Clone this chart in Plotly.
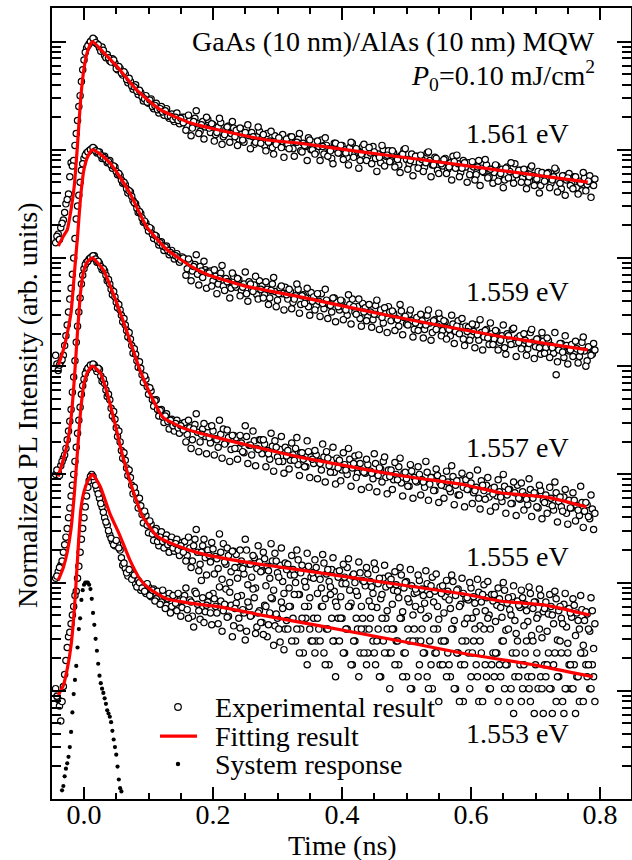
import plotly.graph_objects as go

FONT = "Liberation Serif, Times New Roman, Times, serif"

# ---------------- data ----------------
energies = ["1.561 eV", "1.559 eV", "1.557 eV", "1.555 eV", "1.553 eV"]
decade_offsets = [7, 6, 5, 4, 3]          # vertical shift of each normalized curve (decades)
sys_offset = 2

# sampling grids of the streak traces (ns): main samples and the interleaved half-step samples
time_start, time_step, n_time = -0.044, 0.004, 210
time_ns = [round(time_start + i * time_step, 4) for i in range(n_time)]
time_ns_b = [round(time_start + 0.002 + i * time_step, 4) for i in range(n_time - 1)]

# experimental PL, log10(normalized intensity) in hundredths of a decade
exp_1561 = [
    -186, -178, -172, -165, -150, -141, -112, -110, -85, -60,
    -37, -17, -6, -2, 1, 2, -2, -6, -5, -13,
    -12, -18, -16, -20, -26, -25, -31, -30, -38, -37,
    -44, -40, -49, -47, -55, -50, -57, -53, -62, -57,
    -66, -60, -68, -62, -71, -67, -74, -66, -76, -70,
    -70, -78, -73, -80, -71, -76, -83, -74, -79, -72,
    -84, -77, -86, -79, -75, -88, -81, -78, -85, -80,
    -82, -90, -86, -93, -80, -87, -84, -95, -88, -83,
    -89, -96, -85, -92, -98, -87, -94, -90, -86, -97,
    -95, -88, -99, -93, -90, -101, -94, -97, -89, -100,
    -93, -102, -97, -91, -104, -96, -99, -108, -94, -100,
    -103, -96, -100, -107, -98, -94, -104, -101, -110, -97,
    -99, -106, -103, -97, -108, -104, -112, -100, -106, -101,
    -110, -103, -107, -114, -105, -100, -109, -113, -104, -111,
    -106, -112, -109, -116, -103, -110, -114, -107, -119, -111,
    -115, -108, -118, -112, -106, -117, -113, -121, -110, -116,
    -112, -119, -116, -123, -110, -117, -121, -114, -125, -118,
    -121, -115, -124, -118, -128, -116, -120, -126, -113, -122,
    -119, -126, -122, -130, -117, -124, -128, -120, -133, -123,
    -127, -121, -131, -125, -119, -129, -136, -124, -128, -122,
    -131, -125, -135, -129, -138, -126, -132, -124, -129, -127,
]
exp_1561_b = [
    -180, -183, -168, -158, -146, -125, -115, -96, -73, -50,
    -26, -10, -4, 0, 3, -1, -3, -9, -8, -15,
    -15, -19, -17, -25, -23, -29, -28, -35, -34, -41,
    -42, -46, -45, -51, -53, -56, -54, -60, -59, -63,
    -62, -65, -64, -69, -69, -72, -70, -73, -71, -75,
    -82, -68, -87, -74, -64, -85, -77, -90, -70, -80,
    -76, -92, -84, -71, -95, -86, -79, -93, -74, -88,
    -96, -80, -91, -84, -77, -99, -88, -93, -79, -94,
    -86, -101, -93, -83, -104, -95, -89, -98, -107, -90,
    -99, -88, -106, -93, -85, -102, -96, -110, -91, -100,
    -104, -92, -110, -97, -89, -106, -101, -113, -94, -103,
    -96, -109, -103, -114, -93, -107, -99, -117, -104, -95,
    -110, -98, -113, -102, -120, -107, -96, -115, -105, -111,
    -101, -116, -109, -121, -104, -99, -118, -110, -124, -106,
    -117, -105, -120, -112, -102, -125, -114, -108, -122, -113,
    -109, -122, -116, -128, -111, -105, -125, -117, -112, -130,
    -123, -111, -128, -116, -133, -120, -109, -126, -118, -131,
    -114, -129, -122, -135, -117, -126, -112, -131, -123, -119,
    -130, -118, -136, -125, -115, -133, -127, -140, -121, -129,
    -122, -135, -128, -117, -139, -131, -124, -142, -126, -133,
    -136, -125, -141, -131, -121, -138, -129, -144, -133,
]
exp_1559 = [
    -190, -204, -196, -190, -172, -150, -128, -100, -64, -42,
    -19, -8, -3, -1, 1, 1, -3, -2, -8, -6,
    -12, -10, -17, -16, -23, -24, -31, -32, -40, -39,
    -47, -50, -58, -59, -67, -68, -75, -73, -82, -80,
    -88, -85, -93, -89, -97, -93, -101, -96, -104, -99,
    -101, -110, -104, -112, -106, -115, -108, -118, -111, -113,
    -112, -121, -117, -124, -114, -126, -119, -122, -128, -117,
    -127, -120, -130, -124, -133, -122, -129, -125, -134, -121,
    -126, -134, -129, -137, -124, -131, -139, -128, -133, -127,
    -138, -131, -141, -135, -129, -143, -134, -137, -145, -132,
    -136, -144, -140, -133, -147, -139, -143, -150, -137, -141,
    -148, -140, -146, -153, -143, -138, -150, -145, -156, -142,
    -146, -154, -150, -157, -144, -152, -148, -160, -151, -145,
    -158, -151, -156, -163, -149, -155, -161, -152, -158, -166,
    -155, -162, -158, -166, -153, -160, -169, -157, -163, -156,
    -167, -159, -165, -172, -161, -168, -158, -164, -175, -163,
    -164, -172, -168, -162, -176, -169, -173, -166, -180, -170,
    -175, -168, -178, -172, -183, -170, -176, -166, -179, -174,
    -172, -180, -176, -184, -169, -178, -182, -175, -189, -177,
    -183, -176, -181, -188, -208, -185, -179, -192, -181, -186,
    -180, -188, -184, -191, -178, -186, -195, -183, -189, -185,
]
exp_1559_b = [
    -198, -199, -194, -181, -162, -138, -115, -82, -52, -30,
    -13, -5, -2, 0, 2, -1, -2, -5, -7, -9,
    -11, -14, -15, -20, -22, -28, -30, -36, -38, -43,
    -49, -54, -57, -63, -66, -71, -72, -78, -79, -84,
    -86, -89, -90, -93, -95, -97, -98, -100, -102, -100,
    -116, -101, -121, -108, -97, -125, -112, -103, -128, -114,
    -126, -111, -133, -119, -107, -130, -122, -137, -114, -125,
    -119, -135, -127, -113, -140, -124, -131, -117, -138, -129,
    -137, -122, -143, -130, -118, -145, -133, -126, -148, -134,
    -129, -147, -138, -124, -151, -135, -142, -128, -153, -140,
    -148, -133, -154, -142, -129, -156, -144, -137, -159, -145,
    -139, -157, -148, -134, -161, -145, -152, -138, -163, -150,
    -158, -143, -164, -152, -139, -166, -155, -146, -169, -150,
    -149, -167, -157, -143, -171, -154, -162, -148, -173, -160,
    -167, -152, -174, -162, -148, -176, -158, -166, -151, -172,
    -158, -175, -166, -153, -179, -163, -170, -156, -181, -168,
    -176, -161, -183, -171, -157, -185, -167, -174, -160, -180,
    -167, -185, -176, -162, -189, -172, -180, -165, -191, -178,
    -184, -170, -190, -179, -166, -193, -175, -183, -169, -188,
    -174, -192, -183, -169, -196, -179, -187, -172, -198, -185,
    -191, -177, -197, -186, -173, -200, -182, -190, -179,
]
exp_1557 = [
    -200, -198, -192, -185, -176, -160, -140, -110, -78, -50,
    -24, -10, -4, -1, 1, 2, -4, -5, -11, -12,
    -21, -24, -34, -36, -46, -48, -59, -62, -73, -75,
    -88, -89, -101, -102, -115, -112, -126, -123, -137, -131,
    -146, -140, -152, -144, -158, -149, -160, -150, -162, -153,
    -152, -163, -157, -168, -154, -161, -170, -158, -165, -156,
    -171, -160, -167, -175, -163, -158, -170, -166, -177, -164,
    -166, -176, -171, -180, -165, -173, -182, -169, -176, -168,
    -181, -172, -178, -186, -174, -169, -184, -177, -188, -175,
    -178, -187, -182, -176, -191, -180, -186, -193, -179, -184,
    -190, -182, -188, -196, -184, -179, -192, -187, -198, -185,
    -187, -196, -191, -200, -186, -194, -183, -199, -190, -197,
    -199, -191, -197, -204, -190, -201, -195, -188, -203, -196,
    -196, -205, -200, -193, -208, -199, -204, -211, -197, -203,
    -207, -200, -205, -212, -198, -209, -203, -215, -201, -208,
    -204, -211, -207, -216, -202, -210, -219, -206, -212, -205,
    -214, -208, -217, -212, -222, -206, -215, -210, -221, -213,
    -212, -220, -216, -225, -211, -219, -214, -227, -217, -210,
    -223, -216, -220, -228, -214, -222, -218, -231, -215, -224,
    -219, -227, -222, -233, -217, -225, -230, -221, -236, -224,
    -231, -224, -229, -238, -226, -234, -228, -241, -232, -236,
]
exp_1557_b = [
    -196, -201, -188, -182, -168, -151, -124, -95, -63, -37,
    -16, -6, -3, 0, 2, -1, -3, -8, -10, -16,
    -20, -29, -31, -41, -43, -53, -56, -67, -69, -81,
    -84, -95, -96, -108, -109, -119, -120, -131, -132, -140,
    -141, -147, -146, -151, -150, -155, -153, -157, -155, -159,
    -170, -150, -176, -158, -144, -179, -163, -153, -181, -166,
    -155, -182, -168, -150, -185, -172, -159, -188, -164, -176,
    -186, -164, -179, -155, -190, -173, -160, -192, -177, -168,
    -168, -193, -181, -162, -197, -175, -188, -165, -199, -183,
    -195, -171, -187, -166, -201, -180, -193, -169, -203, -186,
    -178, -204, -190, -172, -207, -185, -198, -175, -209, -194,
    -206, -180, -196, -176, -211, -190, -203, -182, -214, -198,
    -186, -212, -199, -181, -216, -194, -207, -184, -218, -202,
    -214, -189, -205, -185, -220, -198, -211, -191, -222, -206,
    -193, -219, -207, -188, -224, -203, -215, -195, -226, -210,
    -222, -197, -213, -192, -228, -206, -219, -199, -230, -214,
    -201, -227, -215, -196, -232, -210, -223, -203, -234, -218,
    -230, -205, -221, -200, -236, -214, -227, -207, -238, -222,
    -208, -233, -223, -204, -239, -217, -230, -210, -241, -226,
    -236, -212, -229, -207, -244, -221, -234, -214, -246, -231,
    -217, -243, -233, -211, -249, -226, -239, -219, -251,
]
exp_1555 = [
    -196, -190, -184, -172, -158, -140, -120, -100, -75, -50,
    -26, -12, -4, -1, 0, 1, -5, -3, -14, -16,
    -28, -31, -46, -49, -65, -70, -85, -87, -101, -103,
    -118, -117, -131, -129, -145, -138, -154, -146, -161, -150,
    -166, -153, -168, -156, -172, -158, -171, -160, -175, -163,
    -162, -175, -168, -180, -160, -172, -183, -166, -177, -170,
    -181, -169, -176, -187, -172, -164, -183, -175, -190, -171,
    -174, -186, -180, -192, -170, -183, -195, -177, -187, -181,
    -189, -178, -185, -196, -180, -173, -191, -184, -199, -182,
    -183, -193, -188, -200, -179, -191, -186, -204, -185, -195,
    -196, -186, -193, -205, -182, -192, -199, -188, -208, -190,
    -189, -201, -195, -186, -207, -194, -200, -212, -191, -198,
    -203, -192, -199, -210, -188, -201, -215, -196, -204, -194,
    -197, -207, -202, -214, -193, -205, -199, -218, -203, -210,
    -209, -198, -206, -219, -201, -211, -195, -208, -222, -204,
    -203, -213, -208, -224, -199, -212, -206, -220, -210, -215,
    -216, -205, -213, -227, -209, -218, -202, -214, -230, -211,
    -211, -221, -215, -232, -207, -219, -225, -213, -235, -217,
    -223, -214, -220, -236, -210, -224, -218, -230, -212, -227,
    -218, -229, -222, -238, -215, -226, -233, -220, -241, -224,
    -232, -221, -228, -243, -225, -235, -229, -245, -226, -238,
]
exp_1555_b = [
    -194, -186, -180, -165, -150, -131, -110, -88, -62, -38,
    -18, -7, -2, 1, 2, -2, -2, -9, -12, -22,
    -26, -39, -42, -57, -60, -78, -80, -94, -96, -110,
    -112, -124, -122, -137, -134, -147, -143, -155, -152, -162,
    -158, -162, -160, -165, -163, -168, -164, -170, -166, -172,
    -180, -158, -186, -166, -151, -189, -172, -160, -193, -175,
    -163, -192, -178, -155, -197, -181, -168, -200, -171, -186,
    -196, -170, -187, -160, -202, -183, -175, -205, -166, -190,
    -172, -203, -189, -164, -207, -180, -195, -168, -210, -188,
    -205, -175, -193, -170, -211, -184, -199, -173, -214, -191,
    -179, -210, -197, -174, -215, -188, -204, -177, -218, -195,
    -213, -183, -201, -178, -219, -192, -208, -181, -222, -199,
    -186, -217, -204, -182, -223, -196, -211, -184, -226, -202,
    -220, -190, -208, -186, -227, -200, -215, -188, -230, -206,
    -193, -225, -212, -189, -231, -203, -218, -192, -234, -210,
    -228, -198, -216, -193, -235, -207, -222, -196, -238, -214,
    -200, -233, -219, -197, -240, -211, -226, -199, -243, -217,
    -236, -205, -223, -200, -244, -214, -230, -203, -247, -221,
    -207, -240, -226, -204, -249, -218, -233, -206, -251, -224,
    -245, -211, -230, -208, -253, -222, -238, -210, -256, -228,
    -215, -249, -235, -212, -258, -227, -243, -214, -261,
]
exp_1553 = [
    -198, -208, -228, -196, -172, -150, -138, -122, -108, -85,
    -60, -40, -20, -6, 0, -6, -14, -22, -30, -40,
    -47, -56, -62, -66, -64, -70, -84, -87, -94, -90,
    -96, -101, -98, -107, -103, -110, -104, -113, -106, -115,
    -109, -118, -112, -121, -110, -122, -114, -126, -117, -123,
    -112, -125, -116, -131, -108, -120, -134, -114, -127, -118,
    -128, -110, -122, -138, -117, -126, -106, -131, -121, -140,
    -119, -133, -112, -128, -145, -122, -130, -114, -141, -126,
    -137, -121, -150, -128, -115, -140, -133, -155, -124, -143,
    -143, -122, -133, -154, -111, -143, -165, -133, -122, -154,
    -133, -154, -143, -122, -165, -143, -176, -133, -154, -122,
    -154, -133, -165, -143, -122, -176, -154, -143, -165, -133,
    -143, -165, -133, -154, -176, -143, -187, -154, -133, -165,
    -165, -143, -154, -176, -133, -165, -187, -154, -198, -143,
    -154, -176, -143, -165, -187, -154, -198, -165, -143, -176,
    -176, -154, -165, -187, -143, -198, -165, -176, -210, -154,
    -165, -187, -154, -176, -210, -165, -143, -187, -198, -176,
    -187, -165, -176, -154, -198, -176, -210, -165, -187, -154,
    -176, -198, -165, -187, -210, -154, -176, -198, -187, -221,
    -187, -165, -198, -176, -210, -187, -165, -221, -198, -176,
    -198, -176, -187, -210, -165, -165, -187, -198, -176, -210,
]
exp_1553_b = [
    -205, -214, -210, -185, -160, -146, -130, -112, -96, -72,
    -50, -30, -12, -2, -2, -10, -18, -27, -35, -44,
    -52, -59, -65, -61, -68, -77, -82, -91, -88, -97,
    -93, -104, -100, -105, -108, -101, -112, -107, -117, -108,
    -120, -107, -124, -115, -128, -112, -119, -110, -131, -116,
    -105, -133, -118, -141, -110, -126, -98, -137, -121, -112,
    -139, -115, -128, -104, -145, -120, -132, -109, -150, -124,
    -113, -142, -125, -153, -118, -131, -106, -147, -128, -137,
    -148, -122, -139, -114, -158, -129, -143, -118, -162, -135,
    -122, -154, -111, -143, -165, -133, -122, -176, -143, -154,
    -165, -133, -154, -122, -176, -143, -111, -154, -187, -133,
    -133, -165, -143, -122, -176, -154, -133, -187, -143, -165,
    -176, -143, -122, -165, -154, -187, -133, -165, -143, -198,
    -143, -176, -154, -133, -187, -165, -143, -198, -154, -122,
    -187, -154, -165, -133, -198, -176, -143, -165, -210, -154,
    -154, -187, -176, -143, -198, -165, -210, -154, -176, -133,
    -198, -165, -143, -187, -154, -210, -176, -133, -198, -165,
    -165, -210, -187, -154, -176, -143, -198, -221, -165, -187,
    -210, -176, -154, -198, -187, -221, -165, -143, -198, -176,
    -176, -198, -221, -165, -187, -154, -210, -198, -165, -176,
    -198, -221, -187, -165, -210, -176, -176, -198, -187,
]
exp_curves = [exp_1561, exp_1559, exp_1557, exp_1555, exp_1553]
exp_curves_b = [exp_1561_b, exp_1559_b, exp_1557_b, exp_1555_b, exp_1553_b]

# fitted curves: knots (ns) and log10(normalized intensity)
fit_1561_t = [-0.040, -0.032, -0.026, -0.020, -0.015, -0.010, -0.005, 0.000, 0.006, 0.013,
              0.030, 0.051, 0.082, 0.118, 0.164, 0.211, 0.284, 0.335, 0.430, 0.521, 0.645, 0.781]
fit_1561_v = [-1.89, -1.80, -1.74, -1.55, -1.33, -0.95, -0.52, -0.25, -0.08, 0.00,
              -0.10, -0.23, -0.45, -0.63, -0.75, -0.82, -0.91, -0.94, -1.02, -1.09, -1.19, -1.30]
fit_1559_t = [-0.040, -0.032, -0.026, -0.020, -0.015, -0.010, -0.005, 0.000, 0.006, 0.013,
              0.025, 0.040, 0.051, 0.071, 0.097, 0.128, 0.164, 0.190, 0.250, 0.335, 0.430,
              0.521, 0.650, 0.781]
fit_1559_v = [-2.00, -1.85, -1.70, -1.50, -1.15, -0.80, -0.42, -0.18, -0.06, 0.00,
              -0.04, -0.12, -0.21, -0.40, -0.71, -0.92, -1.07, -1.15, -1.26, -1.36, -1.48,
              -1.59, -1.73, -1.85]
fit_1557_t = [-0.040, -0.032, -0.026, -0.020, -0.015, -0.010, -0.005, 0.000, 0.006, 0.013,
              0.030, 0.051, 0.071, 0.087, 0.102, 0.122, 0.153, 0.180, 0.206, 0.335, 0.490,
              0.593, 0.645, 0.717, 0.779]
fit_1557_v = [-2.02, -1.86, -1.72, -1.48, -1.12, -0.68, -0.30, -0.11, -0.03, 0.00,
              -0.11, -0.42, -0.76, -1.04, -1.25, -1.47, -1.57, -1.62, -1.66, -1.84, -2.01,
              -2.10, -2.17, -2.21, -2.30]
fit_1555_t = [-0.040, -0.032, -0.026, -0.020, -0.015, -0.010, -0.005, 0.000, 0.006, 0.013,
              0.025, 0.036, 0.048, 0.060, 0.076, 0.091, 0.113, 0.144, 0.180, 0.230, 0.284,
              0.366, 0.490, 0.593, 0.645, 0.717, 0.784]
fit_1555_v = [-1.98, -1.86, -1.72, -1.50, -1.18, -0.78, -0.40, -0.16, -0.05, 0.00,
              -0.06, -0.25, -0.53, -0.83, -1.15, -1.39, -1.57, -1.66, -1.73, -1.79, -1.84,
              -1.91, -2.02, -2.11, -2.17, -2.21, -2.30]
fit_1553_t = [-0.040, -0.032, -0.026, -0.020, -0.015, -0.010, -0.005, 0.000, 0.006, 0.013,
              0.025, 0.040, 0.056, 0.071, 0.087, 0.102, 0.128, 0.164, 0.206, 0.284, 0.366,
              0.490, 0.593, 0.697, 0.789]
fit_1553_v = [-2.04, -1.95, -1.80, -1.58, -1.25, -0.78, -0.33, -0.16, -0.06, 0.00,
              -0.11, -0.36, -0.57, -0.79, -0.97, -1.06, -1.15, -1.19, -1.22, -1.31, -1.40,
              -1.54, -1.66, -1.76, -1.87]
fit_times = [fit_1561_t, fit_1559_t, fit_1557_t, fit_1555_t, fit_1553_t]
fit_values = [fit_1561_v, fit_1559_v, fit_1557_v, fit_1555_v, fit_1553_v]

# system response, log10(normalized) in hundredths of a decade
sys_start, sys_step = -0.034, 0.002
sys_resp = [
    -192, -188, -179, -172, -167, -161, -152, -138, -120, -103,
    -90, -77, -60, -43, -33, -16, -7, -2, 0, 0,
    0, -2, -6, -15, -28, -39, -52, -63, -75, -86,
    -93, -98, -102, -107, -112, -118, -121, -124, -129, -137,
    -145, -152, -159, -170, -182, -190, -193,
]
sys_time = [round(sys_start + i * sys_step, 4) for i in range(len(sys_resp))]

header1 = "GaAs (10 nm)/AlAs (10 nm) MQW"
header2 = "<i>P</i><sub>0</sub>=0.10 mJ/cm<sup>2</sup>"
label_log_y = [6.146, 4.686, 3.253, 2.237, 0.601]
x_ticks = [0.0, 0.2, 0.4, 0.6, 0.8]
legend_names = ["Experimental result", "Fitting result", "System response"]

# ---------------- figure ----------------
fig = go.Figure()

circle_marker = dict(symbol="circle", size=6.3, color="white",
                     line=dict(color="black", width=1.2))
for vals, vals_b, off in zip(exp_curves, exp_curves_b, decade_offsets):
    xs = time_ns[:len(vals)] + time_ns_b[:len(vals_b)]
    ys = [10 ** (v / 100 + off) for v in vals] + [10 ** (v / 100 + off) for v in vals_b]
    fig.add_trace(go.Scatter(x=xs, y=ys, mode="markers", name=legend_names[0],
                             showlegend=False, marker=circle_marker))

for ft, fv, off in zip(fit_times, fit_values, decade_offsets):
    fig.add_trace(go.Scatter(
        x=ft, y=[10 ** (v + off) for v in fv], mode="lines", name=legend_names[1],
        showlegend=False,
        line=dict(color="#ff0000", width=3.2, shape="spline", smoothing=0.5),
    ))

fig.add_trace(go.Scatter(
    x=sys_time, y=[10 ** (v / 100 + sys_offset) for v in sys_resp],
    mode="markers", name=legend_names[2], showlegend=False,
    marker=dict(symbol="circle", size=4.2, color="black"),
))

# plot area: 52..631 px horizontally, 8..799 px vertically
annotations = [
    dict(text=header1, xref="paper", yref="paper", x=0.9413, y=0.958,
         xanchor="right", yanchor="middle", showarrow=False),
    dict(text=header2, xref="paper", yref="paper", x=0.9413, y=0.915,
         xanchor="right", yanchor="middle", showarrow=False),
    dict(text="Time (ns)", xref="paper", yref="paper", x=0.5009, y=-0.0585,
         xanchor="center", yanchor="middle", showarrow=False),
    dict(text="Normalized PL Intensity (arb. units)", xref="paper", yref="paper",
         x=-0.0432, y=0.498, textangle=-90, xanchor="center", yanchor="middle",
         showarrow=False),
]
for lab, ly in zip(energies, label_log_y):
    annotations.append(dict(text=lab, xref="x", yref="y", x=0.755, y=ly,
                            xanchor="right", yanchor="middle", showarrow=False))

# legend (drawn as text + glyphs)
leg_text_x = 0.2781
leg_rows_y = [0.1163, 0.0796, 0.0442]
for name, ly in zip(legend_names, leg_rows_y):
    annotations.append(dict(text=name, xref="paper", yref="paper", x=leg_text_x, y=ly,
                            xanchor="left", yanchor="middle", showarrow=False))
shapes = [
    dict(type="circle", xref="paper", yref="paper", xsizemode="pixel", ysizemode="pixel",
         xanchor=0.2176, yanchor=leg_rows_y[0], x0=-3.3, x1=3.3, y0=-3.3, y1=3.3,
         fillcolor="white", line=dict(color="black", width=1.2)),
    dict(type="line", xref="paper", yref="paper", x0=0.1865, x1=0.2504,
         y0=leg_rows_y[1], y1=leg_rows_y[1], line=dict(color="#ff0000", width=3.2)),
    dict(type="circle", xref="paper", yref="paper", xsizemode="pixel", ysizemode="pixel",
         xanchor=0.2176, yanchor=leg_rows_y[2], x0=-2.2, x1=2.2, y0=-2.2, y1=2.2,
         fillcolor="black", line=dict(color="black", width=0)),
]

minor_y = [m * 10 ** e for e in range(0, 8) for m in range(2, 10)]

fig.update_layout(
    width=632, height=860,
    margin=dict(l=52, r=1, t=8, b=61),
    paper_bgcolor="white", plot_bgcolor="white",
    font=dict(family=FONT, size=28, color="black"),
    showlegend=False,
    annotations=annotations,
    shapes=shapes,
    xaxis=dict(
        range=[-0.0496, 0.848], showline=True, linecolor="black", linewidth=2,
        mirror="ticks", ticks="inside", ticklen=12, tickwidth=2, tickcolor="black",
        tickmode="array", tickvals=x_ticks, ticktext=[f"{v:.1f}" for v in x_ticks],
        tickfont=dict(size=28), ticklabelstandoff=-11,
        minor=dict(ticks="inside", ticklen=6, tickwidth=2, tickcolor="black",
                   dtick=0.05, tick0=0),
        showgrid=False, zeroline=False, automargin=False,
    ),
    yaxis=dict(
        type="log", range=[0, 7.31], showline=True, linecolor="black", linewidth=2,
        mirror="ticks", ticks="inside", ticklen=14, tickwidth=2, tickcolor="black",
        dtick=1, showticklabels=False,
        minor=dict(ticks="inside", ticklen=9, tickwidth=1.5, tickcolor="black",
                   tickmode="array", tickvals=minor_y),
        showgrid=False, zeroline=False, automargin=False,
    ),
)

fig.write_html("out.html")
